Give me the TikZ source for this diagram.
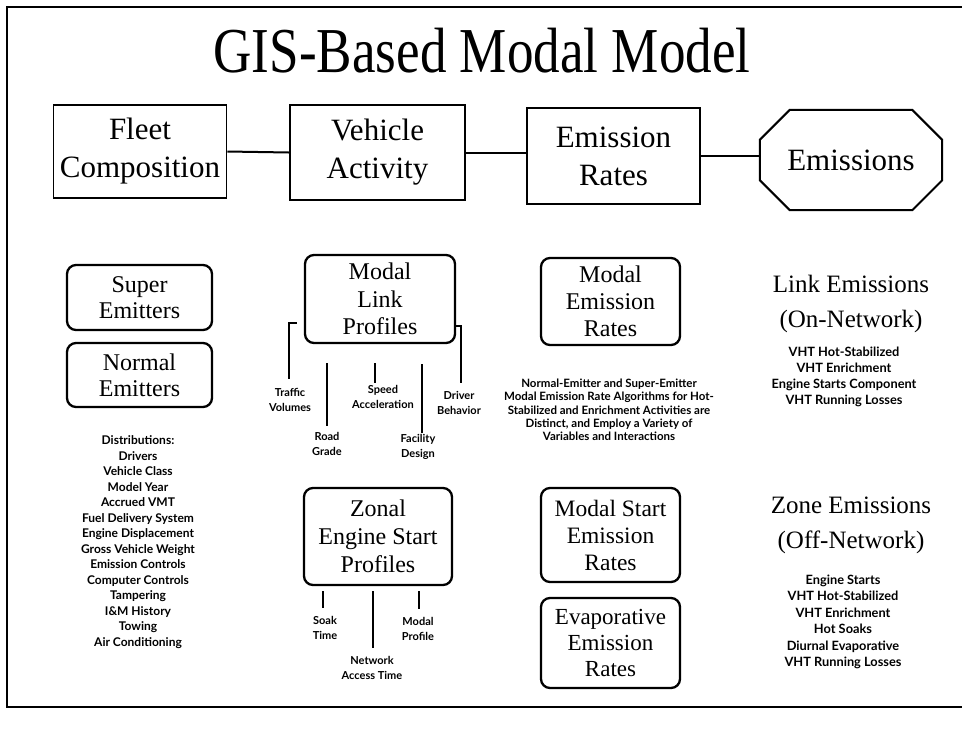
\documentclass[tikz,border=0pt]{standalone}
\usepackage{fontspec}
\setmainfont{Liberation Serif}
\newfontfamily\notefont{Lato}

\begin{document}
\begin{tikzpicture}[x = 1pt, y = -1pt,
    stage/.style = {draw, line width = 1.8pt, align = center, inner sep = 0pt,
        font = \fontsize{31}{38}\selectfont},
    part/.style = {draw, rounded corners = 9pt, line width = 2.3pt, align = center,
        inner sep = 0pt, font = \fontsize{24}{26}\selectfont},
    note/.style = {align = center, inner sep = 1pt,
        font = \notefont\bfseries\fontsize{11}{15}\selectfont},
    head/.style = {align = center, inner sep = 0pt, font = \fontsize{25}{35}\selectfont},
    tick/.style = {line width = 2.6pt},
    wire/.style = {line width = 2pt}]
    \useasboundingbox (0,0) rectangle (962,732);
    % page frame, runs off to the right
    \draw[line width = 2pt] (975,7) -- (7,7) -- (7,707) -- (975,707);

    \node[anchor = base, xscale = 0.83, font = \fontsize{64}{64}\selectfont] (title)
        at (482,72) {GIS-Based Modal Model};

    % top row
    \node[stage, minimum width = 173, minimum height = 93] (fleet) at (140,151.5) {Fleet\\Composition};
    \node[stage, minimum width = 175, minimum height = 95] (vehicle) at (377.5,152.5) {Vehicle\\Activity};
    \node[stage, minimum width = 173, minimum height = 96] (rates) at (613.5,156) {Emission\\Rates};
    \node[minimum width = 182, minimum height = 100, inner sep = 0pt,
        font = \fontsize{31}{31}\selectfont] (emis) at (851,160) {Emissions};
    \draw[wire] ([xshift = 30pt]emis.north west) -- ([xshift = -30pt]emis.north east)
        -- ([yshift = -30pt]emis.north east) -- ([yshift = 30pt]emis.south east)
        -- ([xshift = -30pt]emis.south east) -- ([xshift = 30pt]emis.south west)
        -- ([yshift = 30pt]emis.south west) -- ([yshift = -30pt]emis.north west) -- cycle;
    \draw[wire] (fleet.east) -- (vehicle.west);
    \draw[wire] (vehicle.east) -- (vehicle.east -| rates.west);
    \draw[wire] (rates.east) -- (rates.east -| emis.west);

    % fleet column
    \node[part, minimum width = 145, minimum height = 65] (super) at (139.5,297.5) {Super\\Emitters};
    \node[part, minimum width = 145, minimum height = 64] (normal) at (139.5,375) {Normal\\Emitters};
    \node[note, font = \notefont\bfseries\fontsize{12}{15.5}\selectfont] (distrib) at (138,542)
        {Distributions:\\Drivers\\Vehicle Class\\Model Year\\Accrued VMT\\Fuel Delivery System\\
        Engine Displacement\\Gross Vehicle Weight\\Emission Controls\\Computer Controls\\
        Tampering\\I\&M History\\Towing\\Air Conditioning};

    % activity column
    \node[part, minimum width = 150, minimum height = 88, font = \fontsize{24}{27.5}\selectfont]
        (mlink) at (380,299) {Modal\\Link\\Profiles};
    \node[note] (traffic) at (290,400) {Traffic\\Volumes};
    \node[note] (speed) at (383,397) {Speed\\Acceleration};
    \node[note] (driver) at (459,403) {Driver\\Behavior};
    \node[note] (road) at (327,444) {Road\\Grade};
    \node[note] (facility) at (418,447) {Facility\\Design};
    \draw[tick] ([xshift = -7pt, yshift = 21pt]mlink.south west) -- ++(-8,0) -- ++(0,56);
    \draw[tick] ([yshift = 18pt]mlink.south east) -- ++(5,0) -- ++(0,57);
    \draw[tick] ([xshift = -53pt, yshift = -19pt]mlink.south) -- ++(0,63);
    \draw[tick] ([xshift = -5pt, yshift = -19pt]mlink.south) -- ++(0,20);
    \draw[tick] ([xshift = 42pt, yshift = -20pt]mlink.south) -- ++(0,69);

    \node[part, minimum width = 148, minimum height = 97, font = \fontsize{24}{28}\selectfont]
        (zonal) at (378,536.5) {Zonal\\Engine Start\\Profiles};
    \node[note] (soak) at (325,628) {Soak\\Time};
    \node[note] (mprofile) at (418,629) {Modal\\Profile};
    \node[note] (access) at (372,668) {Network\\Access Time};
    \draw[tick] ([xshift = -55pt, yshift = -5pt]zonal.south) -- ++(0,17);
    \draw[tick] ([xshift = -5pt, yshift = -5pt]zonal.south) -- ++(0,57);
    \draw[tick] ([xshift = 41pt, yshift = -5pt]zonal.south) -- ++(0,18);

    % rates column
    \node[part, minimum width = 139, minimum height = 87, font = \fontsize{24}{27}\selectfont]
        (mrates) at (610.5,301.5) {Modal\\Emission\\Rates};
    \node[note, font = \notefont\bfseries\fontsize{11.5}{13.3}\selectfont] (algo) at (609,410)
        {Normal-Emitter and Super-Emitter\\Modal Emission Rate Algorithms for Hot-\\
        Stabilized and Enrichment Activities are\\Distinct, and Employ a Variety of\\
        Variables and Interactions};
    \node[part, minimum width = 139, minimum height = 94, font = \fontsize{23.5}{27}\selectfont]
        (mstart) at (610.5,535) {Modal Start\\Emission\\Rates};
    \node[part, minimum width = 139, minimum height = 90, font = \fontsize{23}{26}\selectfont]
        (evap) at (610.5,643) {Evaporative\\Emission\\Rates};

    % emissions column
    \node[head] (linkhead) at (851,304) {Link Emissions\\(On-Network)};
    \node[note, font = \notefont\bfseries\fontsize{12.8}{16}\selectfont] (linklist) at (844,377)
        {VHT Hot-Stabilized\\VHT Enrichment\\Engine Starts Component\\VHT Running Losses};
    \node[head] (zonehead) at (851,525) {Zone Emissions\\(Off-Network)};
    \node[note, font = \notefont\bfseries\fontsize{12.8}{16.5}\selectfont] (zonelist) at (843,622)
        {Engine Starts\\VHT Hot-Stabilized\\VHT Enrichment\\Hot Soaks\\
        Diurnal Evaporative\\VHT Running Losses};
\end{tikzpicture}
\end{document}
